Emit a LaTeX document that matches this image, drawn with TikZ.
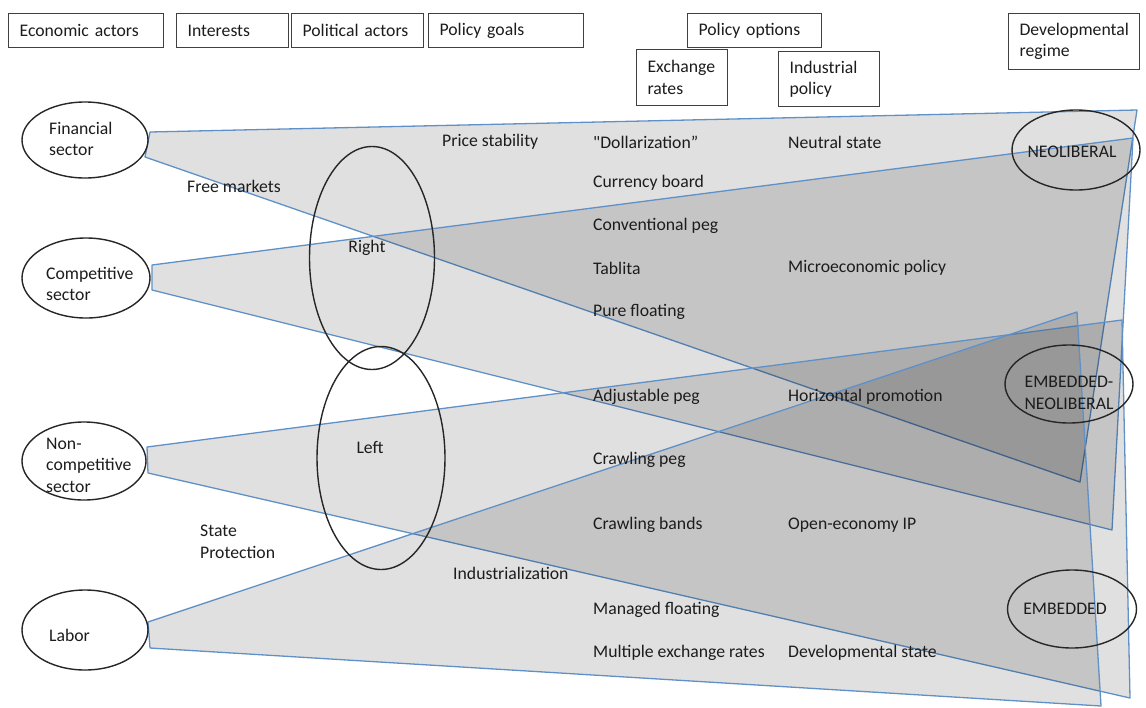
\documentclass[tikz,border=0pt]{standalone}
\usepackage{fontspec}
\setmainfont{Carlito}
\usetikzlibrary{shapes.geometric}
\definecolor{edgeblue}{RGB}{95,145,200}
\definecolor{inkgray}{RGB}{28,28,28}
\begin{document}
\begin{tikzpicture}[x=1pt,y=-1pt,
    every node/.style={font=\fontsize{17.7}{21.5}\selectfont, text=inkgray},
    header/.style={draw=black!75, line width=1.2pt, anchor=north west, align=left, inner xsep=11pt, inner ysep=0pt},
    lbl/.style={anchor=west, inner sep=0pt, align=left},
    midtxt/.style={inner sep=0pt, align=center},
    oval/.style={ellipse, draw=black!85, line width=1.4pt, inner sep=0pt},
    band/.style={draw=edgeblue, line width=1.3pt, fill=black, fill opacity=0.12, line join=round}]
\useasboundingbox (0,0) rectangle (1146,707);

\node[header, text width=133pt, minimum height=34pt] (eco) at (8,13) {Economic actors};
\node[header, text width=90pt, minimum height=34pt] (intr) at (176,13) {Interests};
\node[header, text width=110pt, minimum height=34pt] (polact) at (291,13) {Political actors};
\node[header, text width=133pt, minimum height=34pt] (goals) at (428,13) {Policy goals};
\node[header, text width=112pt, minimum height=34pt] (opts) at (687,13) {Policy options};
\node[header, text width=69pt, minimum height=56pt] (exr) at (636,49) {Exchange\\rates};
\node[header, text width=79pt, minimum height=55pt] (indp) at (778,51) {Industrial\\policy};
\node[header, text width=109pt, minimum height=56pt] (reg) at (1008,13) {Developmental\\regime};

\coordinate (f1) at (150,132); \coordinate (f2) at (1137,110);
\coordinate (f3) at (1080,482); \coordinate (f4) at (145,157);
\coordinate (c1) at (152,265); \coordinate (c2) at (1133,138);
\coordinate (c3) at (1112,530); \coordinate (c4) at (152,290);
\coordinate (n1) at (147,447); \coordinate (n2) at (1122,320);
\coordinate (n3) at (1130,698); \coordinate (n4) at (148,473);
\coordinate (l1) at (148,622); \coordinate (l2) at (1077,312);
\coordinate (l3) at (1101,706); \coordinate (l4) at (150,648);

\draw[band] (f1) -- (f2) -- (f3) -- (f4) -- cycle;
\draw[band] (c1) -- (c2) -- (c3) -- (c4) -- cycle;
\draw[band] (n1) -- (n2) -- (n3) -- (n4) -- cycle;
\draw[band] (l1) -- (l2) -- (l3) -- (l4) -- cycle;

\node[oval, fill=white, minimum width=126pt, minimum height=76pt] (fin) at (85,140) {};
\node[oval, fill=white, minimum width=128pt, minimum height=80pt] (comp) at (86,278) {};
\node[oval, fill=white, minimum width=124pt, minimum height=78pt] (noncomp) at (84,461) {};
\node[oval, fill=white, minimum width=126pt, minimum height=80pt] (labor) at (85,630) {};
\node[oval, minimum width=125pt, minimum height=223pt] (right) at (372,258) {};
\node[oval, minimum width=128pt, minimum height=223pt] (left) at (381,458) {};
\node[oval, minimum width=128pt, minimum height=80pt] (neo) at (1076,150) {};
\node[oval, minimum width=128pt, minimum height=78pt] (embneo) at (1069,384) {};
\node[oval, minimum width=129pt, minimum height=78pt] (emb) at (1072,609) {};

\node[lbl] (fintxt) at (49,139) {Financial\\sector};
\node[lbl] (comptxt) at (46,284) {Competitive\\sector};
\node[lbl] (noncomptxt) at (46,465) {Non-\\competitive\\sector};
\node[lbl] (labortxt) at (49,635) {Labor};
\node[midtxt] (righttxt) at (367,248) {Right};
\node[midtxt] (lefttxt) at (370,447) {Left};
\node[midtxt] (neotxt) at (1072,152) {NEOLIBERAL};
\node[midtxt] (embneotxt) at (1069,393) {EMBEDDED-\\NEOLIBERAL};
\node[midtxt] (embtxt) at (1065,609) {EMBEDDED};

\node[lbl] (free) at (187,186) {Free markets};
\node[lbl] (protect) at (200,542) {State\\Protection};
\node[lbl] (price) at (442,142) {Price stability};
\node[lbl] (indz) at (453,573) {Industrialization};

\node[lbl] (dollar) at (593,142) {\textquotedbl Dollarization”};
\node[lbl] (board) at (593,183) {Currency board};
\node[lbl] (conv) at (593,226) {Conventional peg};
\node[lbl] (tab) at (593,268) {Tablita};
\node[lbl] (pure) at (593,312) {Pure floating};
\node[lbl] (adj) at (593,397) {Adjustable peg};
\node[lbl] (crawl) at (593,460) {Crawling peg};
\node[lbl] (bands) at (593,525) {Crawling bands};
\node[lbl] (managed) at (593,610) {Managed floating};
\node[lbl] (multi) at (593,653) {Multiple exchange rates};

\node[lbl] (neutral) at (788,142) {Neutral state};
\node[lbl] (micro) at (788,268) {Microeconomic policy};
\node[lbl] (horiz) at (788,397) {Horizontal promotion};
\node[lbl] (openip) at (788,525) {Open-economy IP};
\node[lbl] (devstate) at (788,653) {Developmental state};
\end{tikzpicture}
\end{document}
